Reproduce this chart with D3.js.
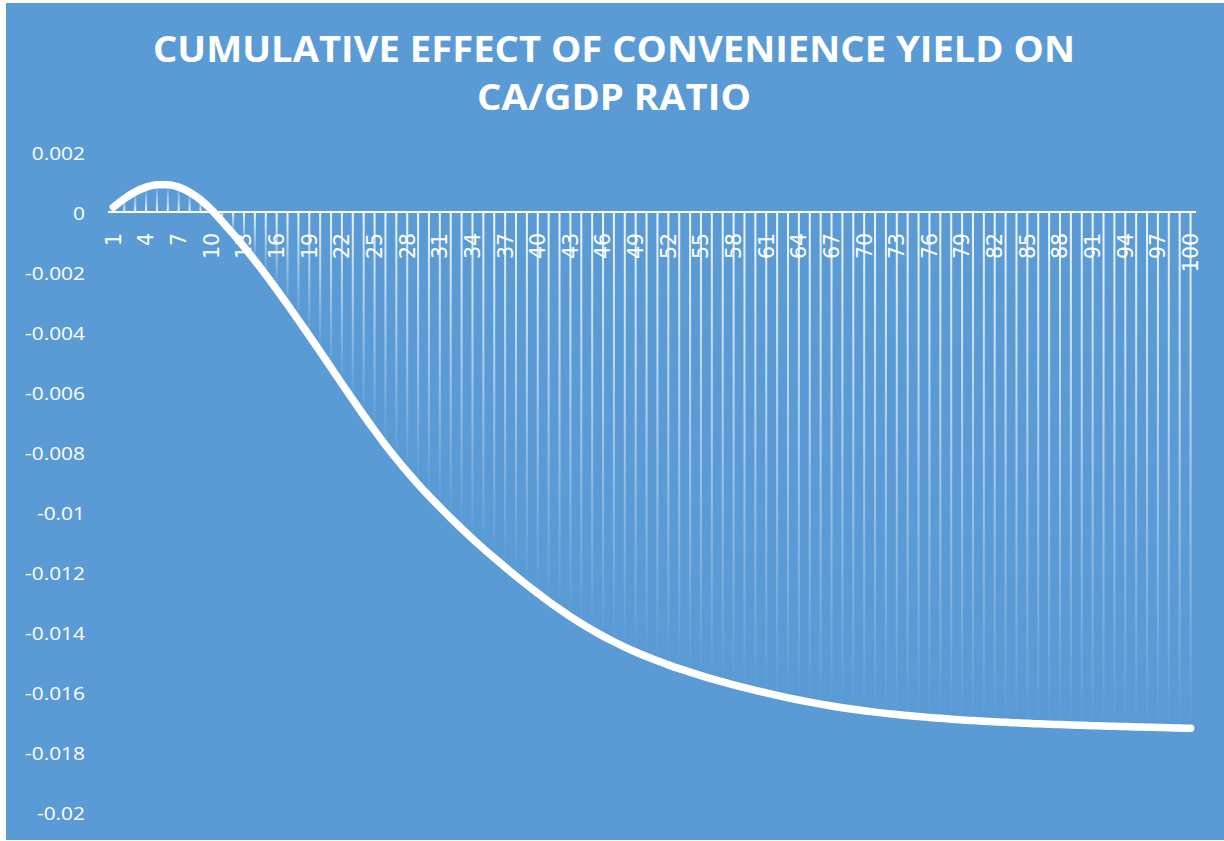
<!DOCTYPE html>
<html>
<head>
<meta charset="utf-8">
<script src="https://cdn.jsdelivr.net/npm/d3@7/dist/d3.min.js"></script>
<style>
  html, body { margin: 0; padding: 0; background: #ffffff; }
  svg { display: block; }
</style>
</head>
<body>
<svg id="chart" width="1224" height="841"></svg>
<script>
// Periods 1..100
const periods = d3.range(1, 101);

// Cumulative effect of the convenience yield on the CA/GDP ratio, per period
const effect = [
  0.000160, 0.000440, 0.000670, 0.000830, 0.000910, 0.000910, 0.000830, 0.000660, 0.000410, 0.000080,
  -0.000320, -0.000730, -0.001165, -0.001621, -0.002095, -0.002585, -0.003088, -0.003602, -0.004125, -0.004655,
  -0.005190, -0.005725, -0.006255, -0.006775, -0.007280, -0.007765, -0.008225, -0.008660, -0.009072, -0.009464,
  -0.009839, -0.010201, -0.010551, -0.010890, -0.011217, -0.011532, -0.011840, -0.012140, -0.012431, -0.012712,
  -0.012982, -0.013240, -0.013485, -0.013716, -0.013933, -0.014136, -0.014325, -0.014501, -0.014665, -0.014818,
  -0.014961, -0.015095, -0.015221, -0.015339, -0.015452, -0.015560, -0.015663, -0.015761, -0.015855, -0.015945,
  -0.016031, -0.016113, -0.016193, -0.016268, -0.016339, -0.016405, -0.016467, -0.016524, -0.016577, -0.016626,
  -0.016671, -0.016712, -0.016750, -0.016785, -0.016818, -0.016849, -0.016878, -0.016905, -0.016930, -0.016953,
  -0.016974, -0.016994, -0.017012, -0.017029, -0.017045, -0.017060, -0.017074, -0.017087, -0.017100, -0.017112,
  -0.017123, -0.017134, -0.017144, -0.017154, -0.017164, -0.017174, -0.017183, -0.017192, -0.017201, -0.017210
];

// Axis ticks
const yTicks = [0.002, 0, -0.002, -0.004, -0.006, -0.008, -0.01, -0.012, -0.014, -0.016, -0.018, -0.02];
const yTickLabels = ["0.002", "0", "-0.002", "-0.004", "-0.006", "-0.008", "-0.01", "-0.012", "-0.014", "-0.016", "-0.018", "-0.02"];
const xTickPeriods = periods.filter(p => (p - 1) % 3 === 0);

const titleLines = ["CUMULATIVE EFFECT OF CONVENIENCE YIELD ON", "CA/GDP RATIO"];

const W = 1224, H = 841;
const bg = "#5B9BD5";

const svg = d3.select("#chart");

// chart area background
svg.append("rect")
  .attr("x", 6).attr("y", 3)
  .attr("width", W - 6).attr("height", H - 4)
  .attr("fill", bg);

const x = d3.scaleBand().domain(periods).range([108, 1196]).padding(0);
const y = d3.scaleLinear().domain([-0.02, 0.002]).range([812, 152]);
const cx = d => x(d) + x.bandwidth() / 2;

// gradients for the drop lines: bright at the zero line, fading toward the curve
const defs = svg.append("defs");
function dropGradient(id, fromTop) {
  const g = defs.append("linearGradient")
    .attr("id", id)
    .attr("x1", 0).attr("y1", fromTop ? 0 : 1)
    .attr("x2", 0).attr("y2", fromTop ? 1 : 0);
  g.append("stop").attr("offset", "0%").attr("stop-color", "#ffffff").attr("stop-opacity", 0.9);
  g.append("stop").attr("offset", "45%").attr("stop-color", "#ffffff").attr("stop-opacity", 0.5);
  g.append("stop").attr("offset", "100%").attr("stop-color", "#ffffff").attr("stop-opacity", 0);
}
dropGradient("dropDown", true);
dropGradient("dropUp", false);

const data = periods.map((p, i) => ({ p, v: effect[i] }));

// drop lines from the zero line to the curve
svg.append("g").selectAll("rect")
  .data(data)
  .join("rect")
  .attr("x", d => cx(d.p) - 1)
  .attr("width", 2)
  .attr("y", d => Math.min(y(d.v), y(0)))
  .attr("height", d => Math.abs(y(d.v) - y(0)))
  .attr("fill", d => d.v < 0 ? "url(#dropDown)" : "url(#dropUp)");

// category axis along the zero line
const xAxis = d3.axisBottom(x)
  .tickValues(xTickPeriods)
  .tickSize(0)
  .tickPadding(0);
const gx = svg.append("g")
  .attr("transform", `translate(0,${y(0)})`)
  .call(xAxis);
gx.select(".domain")
  .attr("stroke", "#ffffff")
  .attr("stroke-width", 2)
  .attr("d", `M108,0H1196`);
gx.selectAll(".tick text")
  .attr("fill", "#ffffff")
  .attr("font-family", "'DejaVu Sans', sans-serif")
  .attr("font-size", 20.5)
  .attr("text-anchor", "end")
  .attr("x", 0).attr("y", 0).attr("dy", "0.36em")
  .attr("transform", "translate(0,21) rotate(-90)");

// value axis labels (no axis line)
const yAxis = d3.axisLeft(y)
  .tickValues(yTicks)
  .tickFormat((d, i) => yTickLabels[i])
  .tickSize(0)
  .tickPadding(0);
const gy = svg.append("g")
  .attr("transform", "translate(85,0)")
  .call(yAxis);
gy.select(".domain").remove();
gy.selectAll(".tick text")
  .attr("fill", "#ffffff")
  .attr("font-family", "'Open Sans', sans-serif")
  .attr("font-size", 19)
  .attr("text-anchor", "end")
  .attr("x", 0)
  .attr("dy", "0.42em")
  .attr("transform", "scale(1.1,1)");

// the series curve
const line = d3.line()
  .x(d => cx(d.p))
  .y(d => y(d.v))
  .curve(d3.curveMonotoneX);
svg.append("path")
  .datum(data)
  .attr("d", line)
  .attr("fill", "none")
  .attr("stroke", "#ffffff")
  .attr("stroke-width", 7.5)
  .attr("stroke-linecap", "round")
  .attr("stroke-linejoin", "round");

// title
const titleBaselines = [62, 110];
const titleWidths = [922, 274];
svg.append("g").selectAll("text")
  .data(titleLines)
  .join("text")
  .attr("x", 614)
  .attr("y", (d, i) => titleBaselines[i])
  .attr("text-anchor", "middle")
  .attr("fill", "#ffffff")
  .attr("font-family", "'Open Sans', sans-serif")
  .attr("font-weight", 700)
  .attr("font-size", 35)
  .attr("textLength", (d, i) => titleWidths[i])
  .attr("lengthAdjust", "spacingAndGlyphs")
  .text(d => d);
</script>
</body>
</html>
